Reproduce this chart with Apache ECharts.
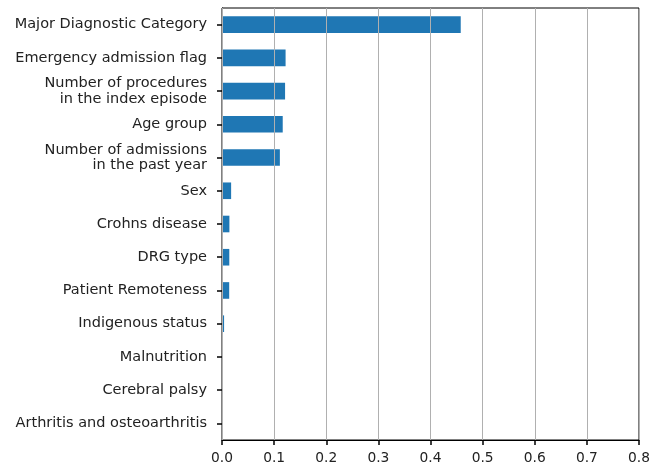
<!DOCTYPE html>
<html>
<head>
<meta charset="utf-8">
<script src="https://cdn.jsdelivr.net/npm/echarts@6/dist/echarts.min.js"></script>
<style>
  html, body { margin: 0; padding: 0; background: #fff; }
  #chart { width: 664px; height: 468px; }
</style>
</head>
<body>
<div id="chart"></div>
<script>
// feature importances, top to bottom
const features = [
  "Major Diagnostic Category",
  "Emergency admission flag",
  "Number of procedures\nin the index episode",
  "Age group",
  "Number of admissions\nin the past year",
  "Sex",
  "Crohns disease",
  "DRG type",
  "Patient Remoteness",
  "Indigenous status",
  "Malnutrition",
  "Cerebral palsy",
  "Arthritis and osteoarthritis"
];
const importance = [0.458, 0.122, 0.121, 0.1165, 0.111, 0.0175, 0.0142, 0.014, 0.0138, 0.004, 0.0003, 0.0002, 0.0001];
const xTicks = { min: 0, max: 0.8, step: 0.1 };

const chart = echarts.init(document.getElementById('chart'));
const font = 'DejaVu Sans';

chart.setOption({
  backgroundColor: '#ffffff',
  animation: false,
  grid: {
    left: 222,
    right: 25,
    top: 8,
    bottom: 28,
    show: true,
    borderColor: '#000000',
    borderWidth: 1
  },
  xAxis: {
    type: 'value',
    min: xTicks.min,
    max: xTicks.max,
    interval: xTicks.step,
    z: 3,
    axisLine: { show: true, lineStyle: { color: '#000000' } },
    axisTick: { show: true, length: 5, lineStyle: { color: '#000000', width: 1.5 } },
    axisLabel: {
      color: '#222222',
      fontFamily: font,
      fontSize: 13.8,
      margin: 11,
      formatter: v => v.toFixed(1)
    },
    splitLine: { show: true, lineStyle: { color: '#b0b0b0' } }
  },
  yAxis: {
    type: 'category',
    inverse: true,
    data: features,
    axisLine: { show: true, lineStyle: { color: '#000000' } },
    axisTick: { show: true, alignWithLabel: true, length: 5, lineStyle: { color: '#000000', width: 1.5 } },
    axisLabel: {
      color: '#222222',
      fontFamily: font,
      fontSize: 14.5,
      lineHeight: 15.5,
      margin: 15,
      padding: [4, 0, 0, 0],
      interval: 0
    }
  },
  series: [{
    type: 'bar',
    data: importance,
    barWidth: '50%',
    itemStyle: { color: '#1f77b4' }
  }]
});
</script>
</body>
</html>
